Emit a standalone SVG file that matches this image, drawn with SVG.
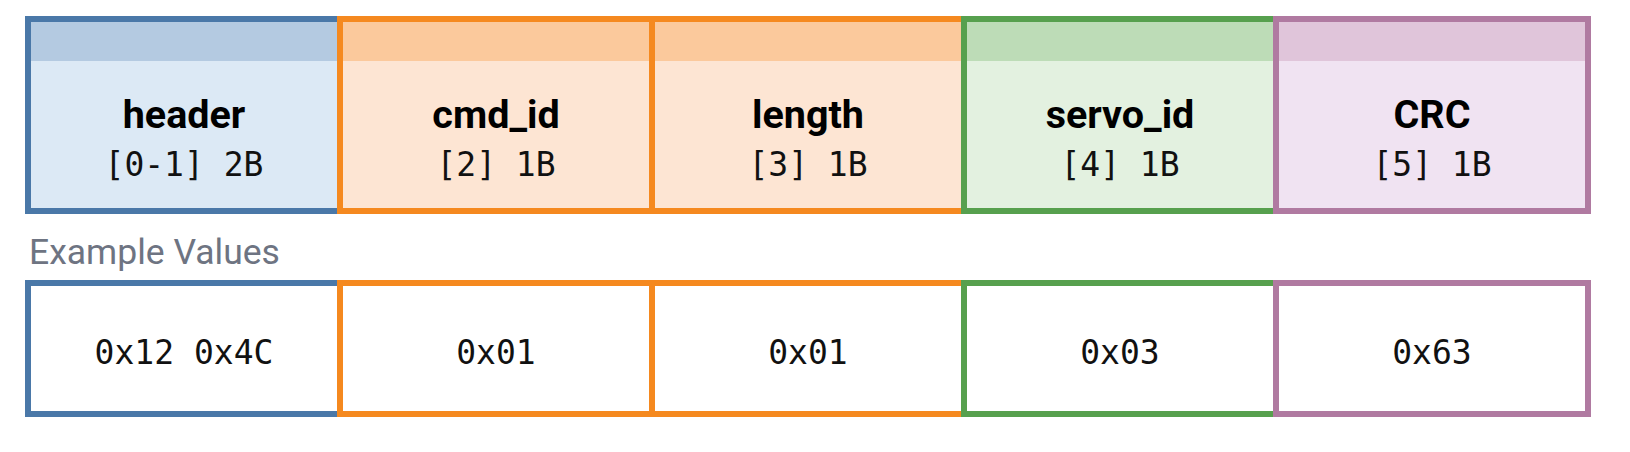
<svg xmlns="http://www.w3.org/2000/svg" width="1630" height="452" viewBox="0 0 1630 452">
<style>
.name{font-family:Roboto,"Liberation Sans",sans-serif;font-weight:bold;font-size:39.5px;fill:#000;text-anchor:middle}
.mono{font-family:"DejaVu Sans Mono","Liberation Mono",monospace;font-size:33px;fill:#111;text-anchor:middle}
.lbl{font-family:Roboto,"Liberation Sans",sans-serif;font-size:35.5px;fill:#6e7482}
.frame{stroke-width:6;fill:none}
.val{fill:#fff;stroke-width:6}
.blue{stroke:#4a78a8}.orange{stroke:#f5891f}.green{stroke:#57a04e}.purple{stroke:#b07aa1}
</style>
<rect width="1630" height="452" fill="#fff"/>
<g id="field-header">
<rect x="28" y="19" width="312" height="192" fill="#dce9f5"/>
<rect x="28" y="19" width="312" height="42" fill="#b4cae1"/>
<rect x="28" y="19" width="312" height="192" class="frame blue"/>
<text x="184" y="128" class="name">header</text>
<text x="184" y="176" class="mono">[0-1] 2B</text>
</g>
<g id="field-cmd_id">
<rect x="340" y="19" width="312" height="192" fill="#fde5d3"/>
<rect x="340" y="19" width="312" height="42" fill="#fbc99c"/>
<rect x="340" y="19" width="312" height="192" class="frame orange"/>
<text x="496" y="128" class="name">cmd_id</text>
<text x="496" y="176" class="mono">[2] 1B</text>
</g>
<g id="field-length">
<rect x="652" y="19" width="312" height="192" fill="#fde5d3"/>
<rect x="652" y="19" width="312" height="42" fill="#fbc99c"/>
<rect x="652" y="19" width="312" height="192" class="frame orange"/>
<text x="808" y="128" class="name">length</text>
<text x="808" y="176" class="mono">[3] 1B</text>
</g>
<g id="field-servo_id">
<rect x="964" y="19" width="312" height="192" fill="#e3f1e0"/>
<rect x="964" y="19" width="312" height="42" fill="#bddcb7"/>
<rect x="964" y="19" width="312" height="192" class="frame green"/>
<text x="1120" y="128" class="name">servo_id</text>
<text x="1120" y="176" class="mono">[4] 1B</text>
</g>
<g id="field-crc">
<rect x="1276" y="19" width="312" height="192" fill="#f0e3f2"/>
<rect x="1276" y="19" width="312" height="42" fill="#e0c5da"/>
<rect x="1276" y="19" width="312" height="192" class="frame purple"/>
<text x="1432" y="128" class="name">CRC</text>
<text x="1432" y="176" class="mono">[5] 1B</text>
</g>
<text x="29" y="264" class="lbl">Example Values</text>
<g id="value-header">
<rect x="28" y="283" width="312" height="131" class="val blue"/>
<text x="184" y="364" class="mono">0x12 0x4C</text>
</g>
<g id="value-cmd_id">
<rect x="340" y="283" width="312" height="131" class="val orange"/>
<text x="496" y="364" class="mono">0x01</text>
</g>
<g id="value-length">
<rect x="652" y="283" width="312" height="131" class="val orange"/>
<text x="808" y="364" class="mono">0x01</text>
</g>
<g id="value-servo_id">
<rect x="964" y="283" width="312" height="131" class="val green"/>
<text x="1120" y="364" class="mono">0x03</text>
</g>
<g id="value-crc">
<rect x="1276" y="283" width="312" height="131" class="val purple"/>
<text x="1432" y="364" class="mono">0x63</text>
</g>
<g id="connectors"></g>
</svg>
